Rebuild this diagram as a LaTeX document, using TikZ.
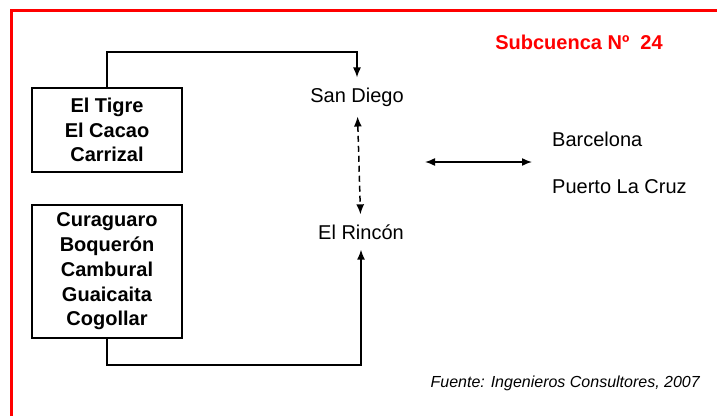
\documentclass[tikz,border=0pt]{standalone}
\usepackage{fontspec}
\setmainfont{Liberation Sans}
\usetikzlibrary{arrows.meta,positioning}

\begin{document}
\begin{tikzpicture}[
  x=1pt,y=-1pt,
  font=\fontsize{20}{24.5}\selectfont,
  zone/.style={draw,line width=1.4pt,align=center,font=\fontsize{20}{24.8}\selectfont\bfseries,
    minimum width=150pt,inner sep=0pt},
  place/.style={inner xsep=2pt,inner ysep=10pt},
  flow/.style={-{Latex[length=10pt,width=8pt]},line width=1.5pt},
  link/.style={{Latex[length=10pt,width=8pt]}-{Latex[length=10pt,width=8pt]},line width=1.5pt},
  frame/.style={draw=red,line width=3pt}
]
\clip (0,0) rectangle (717,415);
\draw[frame] (11,430) |- (730,10);

\node[font=\fontsize{20}{24}\selectfont\bfseries,text=red] (title) at (579,42) {Subcuenca Nº~ 24};

\node[zone,minimum height=84pt] (tigre) at (107,130) {El Tigre\\El Cacao\\Carrizal};
\node[zone,minimum height=133pt] (cura) at (107,271.5)
  {Curaguaro\\Boquerón\\Cambural\\Guaicaita\\Cogollar};

\node[place] (sandiego) at (357,97) {San Diego};
\node[place] (rincon) at (361,232) {El Rincón};
\node[anchor=west,inner sep=0pt] (barcelona) at (552,139) {Barcelona};
\node[anchor=west,inner sep=0pt] (puerto) at (552,187) {Puerto La Cruz};

\coordinate (topbend) at (357,52);
\coordinate (lowbend) at (361,365);
\coordinate (coastw) at (425,162);
\coordinate (coaste) at (532,162);

\draw[flow] (tigre.north) |- (topbend) -- (sandiego.north);
\draw[flow] (cura.south) |- (lowbend) -- (rincon.south);
\draw[link,dashed,dash pattern=on 6pt off 4pt] (sandiego) -- (rincon);
\draw[link] (coastw) -- (coaste);

\node[font=\fontsize{16}{18}\selectfont\itshape,anchor=east,inner sep=0pt] (fuente) at (700,383)
  {Fuente: Ingenieros Consultores, 2007};
\end{tikzpicture}
\end{document}
